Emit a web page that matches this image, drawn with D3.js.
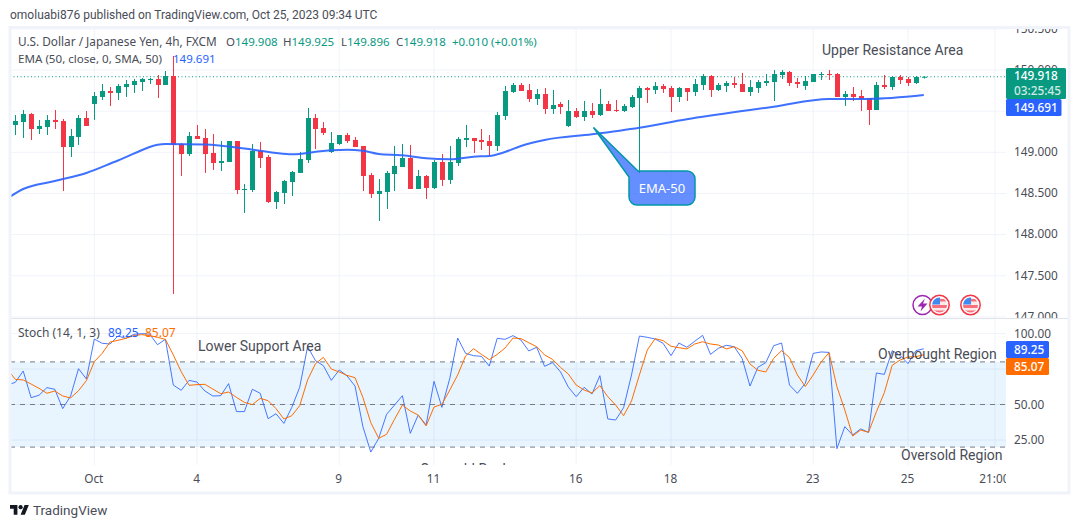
<!DOCTYPE html>
<html>
<head>
<meta charset="utf-8">
<script src="https://cdn.jsdelivr.net/npm/d3@7"></script>
<style>
  html, body { margin: 0; padding: 0; background: #fff; }
  svg { display: block; }
  text { font-family: "Noto Sans", sans-serif; }
  text.note { font-family: Roboto, sans-serif; }
</style>
</head>
<body>
<svg width="1080" height="528"></svg>
<script>
// candles, oldest first
const opens = [149.332,149.368,149.465,149.283,149.307,149.393,149.380,149.064,149.186,149.417,
149.587,149.672,149.745,149.721,149.793,149.818,149.854,149.878,149.891,149.818,
149.927,149.101,148.979,149.198,149.174,148.992,148.870,148.882,149.137,148.542,
148.542,149.016,148.943,148.396,148.506,148.639,148.749,148.906,149.417,149.295,
149.004,149.101,149.210,149.150,149.077,148.724,148.493,148.518,148.736,148.821,
148.931,148.554,148.712,148.566,148.882,148.664,148.870,149.150,149.174,149.150,
149.137,149.077,149.441,149.733,149.818,149.757,149.648,149.708,149.526,149.587,
149.320,149.502,149.429,149.502,149.453,149.587,149.514,149.502,149.550,149.660,
149.781,149.757,149.806,149.781,149.672,149.781,149.733,149.818,149.927,149.757,
149.806,149.842,149.830,149.733,149.781,149.842,149.854,149.939,149.976,149.854,
149.806,149.854,149.939,149.951,149.951,149.672,149.708,149.684,149.660,149.514,
149.818,149.793,149.915,149.891,149.842,149.908];
const highs = [149.453,149.514,149.478,149.393,149.453,149.514,149.405,149.283,149.453,149.502,
149.733,149.830,149.793,149.830,149.878,149.891,149.903,149.903,149.939,149.988,
150.170,149.113,149.247,149.332,149.283,149.222,149.137,149.137,149.137,148.615,
149.101,149.125,148.967,148.530,148.664,148.773,149.004,149.538,149.465,149.368,
149.247,149.210,149.235,149.186,149.077,148.749,148.676,148.773,149.077,149.101,
149.089,148.785,148.724,148.906,148.979,149.077,149.186,149.332,149.174,149.283,
149.210,149.490,149.806,149.842,149.842,149.830,149.769,149.781,149.757,149.611,
149.636,149.538,149.623,149.599,149.769,149.623,149.636,149.587,149.696,149.806,
149.793,149.854,149.830,149.806,149.793,149.781,149.891,149.951,149.939,149.842,
149.866,149.915,149.964,149.878,149.878,149.951,150.000,150.000,149.988,149.903,
149.927,149.951,149.976,150.000,149.964,149.745,149.793,149.757,149.660,149.854,
149.939,149.927,149.939,149.915,149.927,149.925];
const lows = [149.210,149.174,149.150,149.222,149.210,149.283,148.530,148.943,149.089,149.320,
149.393,149.636,149.563,149.636,149.672,149.721,149.745,149.830,149.660,149.818,
147.278,148.712,148.955,149.162,148.749,148.785,148.773,148.882,148.493,148.263,
148.518,148.809,148.384,148.311,148.372,148.469,148.749,148.870,149.040,149.210,
148.992,149.089,149.113,149.064,148.530,148.445,148.165,148.311,148.530,148.821,
148.554,148.554,148.433,148.554,148.591,148.615,148.834,149.064,148.992,149.028,
148.955,149.016,149.393,149.721,149.745,149.611,149.575,149.465,149.465,149.465,
149.307,149.417,149.380,149.417,149.441,149.502,149.490,149.490,149.538,148.749,
149.599,149.708,149.721,149.490,149.611,149.623,149.684,149.757,149.672,149.745,
149.733,149.781,149.733,149.684,149.721,149.806,149.623,149.891,149.806,149.781,
149.757,149.854,149.878,149.878,149.672,149.563,149.623,149.502,149.332,149.514,
149.769,149.757,149.830,149.806,149.830,149.896];
const closes = [149.380,149.465,149.283,149.320,149.393,149.368,149.064,149.198,149.417,149.320,
149.684,149.745,149.721,149.806,149.830,149.866,149.891,149.891,149.818,149.927,
149.089,148.979,149.198,149.162,148.979,148.870,148.894,149.137,148.542,148.554,
149.016,148.931,148.396,148.518,148.651,148.761,148.919,149.417,149.283,149.235,
149.113,149.210,149.137,149.064,148.712,148.493,148.530,148.749,148.834,148.931,
148.554,148.712,148.566,148.882,148.664,148.882,149.162,149.174,149.137,149.125,
149.077,149.453,149.745,149.818,149.745,149.648,149.708,149.526,149.575,149.550,
149.502,149.429,149.502,149.453,149.587,149.502,149.502,149.563,149.672,149.781,
149.757,149.806,149.769,149.672,149.781,149.733,149.830,149.927,149.757,149.818,
149.842,149.818,149.733,149.793,149.854,149.866,149.951,149.976,149.842,149.830,
149.866,149.951,149.951,149.939,149.672,149.708,149.672,149.648,149.514,149.818,
149.793,149.915,149.878,149.842,149.915,149.918];

// EMA 50, read where the curve bends
const emaBars = [-1,1,5,9,13,19,24,29,31,33,35,36,38,40,42,44,46,49,52,55,58,60,62,64,67,73,79,85,93,96,103,108,115];
const emaValues = [148.440,148.554,148.651,148.749,148.900,149.101,149.095,149.046,149.019,148.992,148.976,148.979,
149.007,149.024,149.032,149.019,148.979,148.964,148.927,148.915,148.947,148.955,149.004,149.077,149.150,149.219,
149.299,149.401,149.514,149.554,149.648,149.648,149.695];

// stochastic, first value is the bar just left of the pane
const stochK = [63.7,65.6,73.6,54.8,56.5,61.9,60.7,47.1,56.0,75.2,68.0,96.1,93.1,92.6,98.2,96.6,99.4,99.9,99.6,92.1,95.9,
63.7,60.0,67.0,65.8,59.5,56.0,56.2,64.7,45.0,45.0,60.7,57.9,40.0,43.5,36.7,48.0,62.1,90.7,80.9,77.3,67.0,74.3,70.1,63.0,
34.4,16.5,26.2,43.1,49.6,56.2,29.7,42.6,35.6,66.3,48.0,68.4,96.8,86.0,84.4,83.9,77.1,96.6,95.9,98.5,95.4,87.7,90.3,76.9,
79.5,73.1,62.3,55.5,62.1,57.4,70.3,39.8,39.1,47.8,70.8,98.2,97.3,96.1,93.1,84.4,93.3,90.3,94.5,98.7,85.3,89.6,91.7,90.7,
82.5,63.0,76.2,79.5,91.4,93.3,63.7,57.9,64.9,86.0,87.0,86.7,18.9,34.4,28.5,32.8,30.4,72.2,71.2,87.9,84.6,78.8,87.9,89.25];
const stochD = [75.0,67.7,67.3,64.4,61.4,57.9,59.5,56.0,54.6,59.7,66.8,80.2,86.0,94.0,95.2,96.6,98.5,99.2,98.5,97.3,95.9,
84.9,73.1,63.5,64.0,64.2,60.9,57.6,58.8,55.0,51.5,49.9,54.3,52.7,47.1,39.8,42.1,49.2,67.3,78.8,83.2,75.0,72.9,70.5,68.9,
55.0,37.2,26.2,29.0,39.6,49.6,45.4,42.6,34.9,48.2,50.1,60.2,70.8,84.2,89.3,85.3,81.6,85.3,89.8,96.8,96.4,93.5,90.7,84.9,
81.8,76.2,71.5,63.7,60.2,58.1,63.3,55.5,49.6,42.1,52.5,70.8,88.4,96.4,95.0,91.0,90.0,89.1,92.6,94.2,92.6,91.9,89.1,90.7,
87.9,78.5,74.1,72.9,82.5,87.9,83.0,70.8,62.6,70.8,79.9,86.5,62.6,46.1,27.8,32.0,30.4,44.9,58.3,77.6,81.3,83.5,83.7,85.07];

const priceTicks = [147, 147.5, 148, 148.5, 149, 149.5, 150, 150.5];
const priceLabels = [147, 147.5, 148, 148.5, 149, 150, 150.5];
const stochTicks = [25, 50, 75, 100];
const stochLabels = [25, 50, 100];
const stochBands = [20, 50, 80];
const timeBars = [10, 23, 41, 53, 71, 83, 101, 113, 124];
const timeLabels = ["Oct", "4", "9", "11", "16", "18", "23", "25", "21:00"];

const green = "#089981", red = "#f23645", blue = "#2962ff", orange = "#ff6d00";
const grid = "#f0f3fa", textColor = "#4a4d57";

const left = 10, right = 1006;
const svg = d3.select("svg");

const x = d3.scaleLinear().domain([0, 115]).range([15.3, 923.8]);
const priceY = d3.scaleLinear().domain([147, 150]).range([316.9, 70]);
const stochY = d3.scaleLinear().domain([0, 100]).range([475.5, 333.5]);

const defs = svg.append("defs");
function addClip(id, x0, y0, w, h) {
  defs.append("clipPath").attr("id", id).append("rect").attr("x", x0).attr("y", y0).attr("width", w).attr("height", h);
}
addClip("pricePane", left, 29, right - left, 288.5);
addClip("stochPane", left, 319, right - left, 146);
addClip("priceAxis", right, 29, 62, 289);
addClip("timeAxis", left, 466, right - left, 26);

// title
svg.append("text").attr("class", "note").attr("x", 10).attr("y", 19).attr("font-size", 12).attr("fill", textColor)
  .text("omoluabi876 published on TradingView.com, Oct 25, 2023 09:34 UTC");

// grid
const gridG = svg.append("g").attr("stroke", grid);
gridG.selectAll(".v").data(timeBars).join("line").attr("class", "v")
  .attr("x1", d => x(d)).attr("x2", d => x(d)).attr("y1", 29).attr("y2", 465);
gridG.selectAll(".hp").data(priceTicks).join("line").attr("class", "hp")
  .attr("x1", left).attr("x2", right).attr("y1", d => priceY(d)).attr("y2", d => priceY(d));
gridG.selectAll(".hs").data(stochTicks).join("line").attr("class", "hs")
  .attr("x1", left).attr("x2", right).attr("y1", d => stochY(d)).attr("y2", d => stochY(d));

// last price line
svg.append("line").attr("x1", left).attr("x2", right)
  .attr("y1", priceY(closes[closes.length - 1])).attr("y2", priceY(closes[closes.length - 1]))
  .attr("stroke", green).attr("stroke-dasharray", "1,2.5");

// candles
const pricePane = svg.append("g").attr("clip-path", "url(#pricePane)");
const bars = pricePane.selectAll("g").data(opens).join("g")
  .attr("fill", (d, i) => closes[i] >= d ? green : red)
  .attr("stroke", (d, i) => closes[i] >= d ? green : red);
bars.append("line")
  .attr("x1", (d, i) => Math.round(x(i)) + 0.5).attr("x2", (d, i) => Math.round(x(i)) + 0.5)
  .attr("y1", (d, i) => priceY(highs[i])).attr("y2", (d, i) => priceY(lows[i]));
bars.append("rect").attr("stroke", "none")
  .attr("x", (d, i) => Math.round(x(i)) - 2).attr("width", 5)
  .attr("y", (d, i) => priceY(Math.max(d, closes[i])))
  .attr("height", (d, i) => Math.max(1, Math.abs(priceY(d) - priceY(closes[i]))));

// EMA
const emaLine = d3.line().x(d => x(d[0])).y(d => priceY(d[1])).curve(d3.curveMonotoneX);
pricePane.append("path").datum(emaBars.map((b, i) => [b, emaValues[i]]))
  .attr("d", emaLine).attr("fill", "none").attr("stroke", blue).attr("stroke-width", 2).attr("stroke-opacity", 0.9);

// stochastic pane
const stochPane = svg.append("g").attr("clip-path", "url(#stochPane)");
stochPane.append("rect").attr("x", left).attr("width", right - left)
  .attr("y", stochY(80)).attr("height", stochY(20) - stochY(80)).attr("fill", "#2196f3").attr("fill-opacity", 0.1);
stochPane.selectAll(".band").data(stochBands).join("line").attr("class", "band")
  .attr("x1", left).attr("x2", right).attr("y1", d => stochY(d)).attr("y2", d => stochY(d))
  .attr("stroke", "#787b86").attr("stroke-dasharray", "5,5");
const stochLine = d3.line().x((d, i) => x(i - 1)).y(d => stochY(d));
stochPane.append("path").attr("d", stochLine(stochK)).attr("fill", "none").attr("stroke", blue).attr("stroke-width", 1).attr("stroke-opacity", 0.85);
stochPane.append("path").attr("d", stochLine(stochD)).attr("fill", "none").attr("stroke", orange).attr("stroke-width", 1);

// separator between panes
svg.append("line").attr("x1", left).attr("x2", 1069).attr("y1", 318.5).attr("y2", 318.5).attr("stroke", "#e0e3eb");

// axes
const priceAxis = d3.axisRight(priceY).tickValues(priceLabels).tickSize(0).tickPadding(0).tickFormat(d3.format(".3f"));
const stochAxis = d3.axisRight(stochY).tickValues(stochLabels).tickSize(0).tickPadding(0).tickFormat(d3.format(".2f"));
const timeAxis = d3.axisBottom(x).tickValues(timeBars).tickSize(0).tickPadding(0).tickFormat((d, i) => timeLabels[i]);
function styleAxis(g) {
  g.select(".domain").remove();
  g.selectAll("text").attr("font-size", 11.8).attr("fill", textColor).style("font-family", '"Noto Sans", sans-serif');
}
svg.append("g").attr("clip-path", "url(#priceAxis)").append("g").attr("transform", "translate(1014,-0.5)").call(priceAxis).call(styleAxis);
svg.append("g").attr("transform", "translate(1014,0)").call(stochAxis).call(styleAxis);
svg.append("g").attr("clip-path", "url(#timeAxis)").append("g").attr("transform", "translate(-1,475)").call(timeAxis).call(styleAxis);

// last value tags
function tag(x0, y0, w, h, color) {
  svg.append("rect").attr("x", x0).attr("y", y0).attr("width", w).attr("height", h).attr("rx", 1.5).attr("fill", color);
}
function tagText(x0, y0, str, color) {
  svg.append("text").attr("x", x0).attr("y", y0).attr("font-size", 11.8).attr("font-weight", 500).attr("fill", color || "#fff").text(str);
}
tag(1006, 68, 60, 31, green);
tag(1006, 99, 55.5, 17, blue);
tagText(1014, 80, "149.918");
tagText(1014, 95, "03:25:45", "#cfe9e4");
tagText(1014, 112, "149.691");
tag(1006, 341, 43, 17, blue);
tag(1006, 358, 43, 17, orange);
tagText(1014, 354, "89.25");
tagText(1014, 371, "85.07");

// legend
function label(x0, y0, str, color, size, cls) {
  svg.append("text").attr("class", cls || null).attr("x", x0).attr("y", y0).attr("font-size", size || 11.8)
    .attr("fill", color || textColor).text(str);
}
label(18, 46, "U.S. Dollar / Japanese Yen, 4h, FXCM");
[["O", "149.908", 226], ["H", "149.925", 283], ["L", "149.896", 341], ["C", "149.918", 396]].forEach(d => {
  const t = svg.append("text").attr("x", d[2]).attr("y", 46).attr("font-size", 11.5).attr("fill", green);
  t.append("tspan").attr("fill", textColor).text(d[0]);
  t.append("tspan").text(d[1]);
});
label(452, 46, "+0.010 (+0.01%)", green, 11.5);
label(18, 63, "EMA (50, close, 0, SMA, 50)", textColor, 11.6);
label(173, 63, "149.691", blue, 11.5);
label(18, 337, "Stoch (14, 1, 3)", textColor, 12);
label(108, 337, "89.25", blue, 12);
label(145, 337, "85.07", orange, 12);

// drawn notes
label(822, 55, "Upper Resistance Area", textColor, 14, "note");
label(198, 351, "Lower Support Area", textColor, 14, "note");
label(878, 359, "Overbought Region", textColor, 14, "note");
label(901, 460, "Oversold Region", textColor, 14, "note");
svg.append("g").attr("clip-path", "url(#stochPane)").append("text").attr("class", "note").attr("x", 420).attr("y", 474)
  .attr("font-size", 14).attr("fill", textColor).text("Oversold Rock");

// EMA-50 callout
svg.append("path")
  .attr("d", "M593.5,127.5 L638,171 H687 a8,8 0 0 1 8,8 V197 a8,8 0 0 1 -8,8 H637 a8,8 0 0 1 -8,-8 V177 Z")
  .attr("fill", "#2962ff").attr("fill-opacity", 0.72).attr("stroke", "#0097a7").attr("stroke-width", 1.5);
svg.append("text").attr("x", 662).attr("y", 193).attr("text-anchor", "middle").attr("font-size", 13).attr("fill", "#fff").text("EMA-50");

// event icons
const lightning = svg.append("g").attr("transform", "translate(922.5,305)");
lightning.append("circle").attr("r", 9.5).attr("fill", "#fff").attr("stroke", "#9c27b0").attr("stroke-width", 1.5);
lightning.append("path").attr("d", "M2.5,-6.5 L-5,1.5 H-0.5 L-2,6.5 L5,-1.5 H0.5 Z").attr("fill", "#9c27b0");
[939.5, 970.5].forEach((cx, n) => {
  defs.append("clipPath").attr("id", "flag" + n).append("circle").attr("r", 7.5);
  const f = svg.append("g").attr("transform", `translate(${cx},305)`);
  f.append("circle").attr("r", 9.7).attr("fill", "#fff").attr("stroke", red).attr("stroke-width", 1.5);
  const inner = f.append("g").attr("clip-path", `url(#flag${n})`);
  inner.append("rect").attr("x", -8).attr("y", -8).attr("width", 16).attr("height", 16).attr("fill", "#fde8ea");
  inner.append("rect").attr("x", 0).attr("y", -6).attr("width", 8).attr("height", 2.5).attr("fill", "#f7707c");
  inner.append("rect").attr("x", -8).attr("y", 0).attr("width", 16).attr("height", 3).attr("fill", "#f7707c");
  inner.append("rect").attr("x", -8).attr("y", 5.5).attr("width", 16).attr("height", 3).attr("fill", "#f7707c");
  inner.append("rect").attr("x", -8).attr("y", -8).attr("width", 8.5).attr("height", 7.5).attr("fill", "#3d8bf0");
});

// outer frame
svg.append("rect").attr("x", 10).attr("y", 27.5).attr("width", 1059).attr("height", 465.5)
  .attr("fill", "none").attr("stroke", grid).attr("stroke-width", 3);

// footer logo
const logo = svg.append("g").attr("transform", "translate(10,503) scale(0.53)").attr("fill", "#131722");
logo.append("path").attr("d", "M14 22H7V11H0V4h14v18zM28 22h-8l7.5-18h8L28 22z");
logo.append("circle").attr("cx", 20).attr("cy", 8).attr("r", 4);
label(33, 515, "TradingView", "#4a4d57", 13.5, "note");
</script>
</body>
</html>
